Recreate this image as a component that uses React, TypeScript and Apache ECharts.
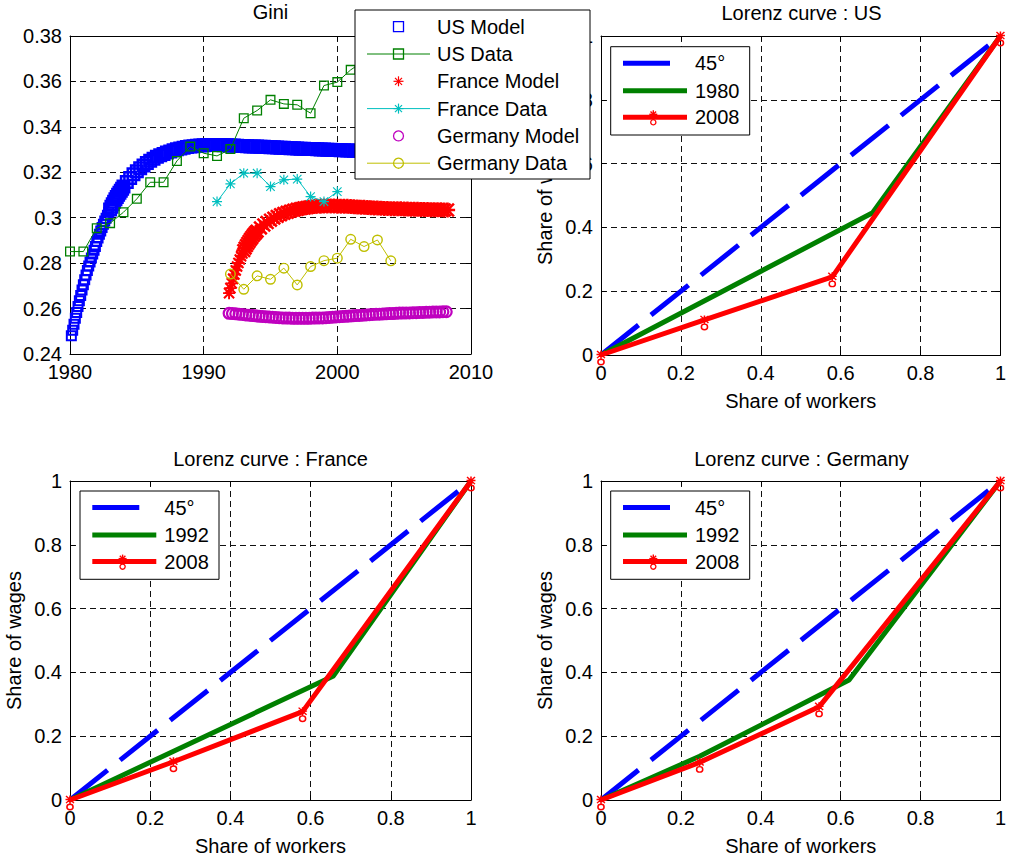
import React, { useEffect, useRef } from "react";
import * as echarts from "echarts";

const FONT = "'Liberation Sans', Arial, sans-serif";

// ---------- Gini panel data ----------
const usModelEarlyStart = 1980.1;
const usModelEarlyStep = 0.1;
const usModelEarly = [
  0.2480, 0.2505, 0.2531, 0.2557, 0.2583, 0.2609, 0.2634, 0.2658, 0.2682,
  0.2705, 0.2727, 0.2748, 0.2768, 0.2787, 0.2805, 0.2823, 0.2840, 0.2857, 0.2873,
  0.2895, 0.2911, 0.2927, 0.2942, 0.2957, 0.2971, 0.2985, 0.2998, 0.3011, 0.3024,
  0.3036, 0.3048, 0.3059, 0.3070, 0.3081, 0.3091, 0.3101, 0.3110, 0.3119, 0.3128,
  0.3137,
];
const usModelLateStart = 1984.25;
const usModelLateStep = 0.25;
const usModelLate = [
  0.3157, 0.3175, 0.3191,
  0.3205, 0.3218, 0.3230, 0.3241,
  0.3251, 0.3260, 0.3268, 0.3275,
  0.3281, 0.3287, 0.3292, 0.3297,
  0.3301, 0.3305, 0.3308, 0.3311,
  0.3313, 0.3315, 0.3317, 0.3318,
  0.3319, 0.3320, 0.3320, 0.3320,
  0.3320, 0.3320, 0.3319, 0.3319,
  0.3318, 0.3318, 0.3317, 0.3316,
  0.3316, 0.3315, 0.3314, 0.3314,
  0.3313, 0.3312, 0.3312, 0.3311,
  0.3310, 0.3310, 0.3309, 0.3308,
  0.3308, 0.3307, 0.3306, 0.3306,
  0.3305, 0.3304, 0.3304, 0.3303,
  0.3302, 0.3302, 0.3301, 0.3300,
  0.3300, 0.3299, 0.3299, 0.3298,
  0.3298, 0.3297, 0.3297, 0.3296,
  0.3296, 0.3295, 0.3295, 0.3294,
  0.3294, 0.3293, 0.3293, 0.3292,
  0.3292, 0.3292, 0.3291, 0.3291,
  0.3290, 0.3290, 0.3290, 0.3289,
  0.3289, 0.3289, 0.3288, 0.3288,
  0.3288, 0.3287, 0.3287, 0.3287,
  0.3286, 0.3286, 0.3286, 0.3285,
  0.3285, 0.3285,
];

const usDataYears = [1980, 1981, 1982, 1983, 1984, 1985, 1986, 1987, 1988, 1989, 1990, 1991, 1992, 1993, 1994, 1995, 1996, 1997, 1998, 1999, 2000, 2001, 2002, 2003, 2004];
const usData = [0.2851, 0.2851, 0.2954, 0.2976, 0.3024, 0.3083, 0.3156, 0.3156, 0.3250, 0.3313, 0.3284, 0.3272, 0.3302, 0.3438, 0.3472, 0.3519, 0.3501, 0.3497, 0.3460, 0.3582, 0.3597, 0.3651, 0.3690, 0.3720, 0.3750];

const frModelEarlyStart = 1991.9;
const frModelEarlyStep = 0.1;
const frModelEarly = [
  0.2668, 0.2690, 0.2711, 0.2731, 0.2750, 0.2768, 0.2785, 0.2801, 0.2816, 0.2830,
  0.2843, 0.2855, 0.2866, 0.2877, 0.2887, 0.2896, 0.2905, 0.2913, 0.2921, 0.2928,
  0.2935, 0.2941,
];
const frModelLateStart = 1994.25;
const frModelLateStep = 0.25;
const frModelLate = [
  0.2955, 0.2968, 0.2979,
  0.2989, 0.2998, 0.3006, 0.3013,
  0.3019, 0.3024, 0.3029, 0.3033,
  0.3037, 0.3040, 0.3043, 0.3045,
  0.3047, 0.3049, 0.3050, 0.3051,
  0.3052, 0.3052, 0.3052, 0.3052,
  0.3051, 0.3051, 0.3050, 0.3050,
  0.3049, 0.3048, 0.3047, 0.3046,
  0.3046, 0.3045, 0.3044, 0.3043,
  0.3043, 0.3042, 0.3041, 0.3041,
  0.3040, 0.3040, 0.3039, 0.3039,
  0.3038, 0.3038, 0.3037, 0.3037,
  0.3037, 0.3036, 0.3036, 0.3036,
  0.3035, 0.3035, 0.3035, 0.3035,
  0.3034, 0.3034,
];

const frDataYears = [1991, 1992, 1993, 1994, 1995, 1996, 1997, 1998, 1999, 2000];
const frData = [0.3071, 0.3149, 0.3196, 0.3196, 0.3137, 0.3167, 0.3170, 0.3093, 0.3071, 0.3115];

const deModelStart = 1991.9;
const deModelStep = 0.25;
const deModel = [
  0.2579, 0.2578, 0.2577, 0.2575, 0.2574, 0.2572, 0.2571, 0.2569, 0.2568, 0.2566,
  0.2565, 0.2564, 0.2563, 0.2562, 0.2561, 0.2560, 0.2559, 0.2558, 0.2558, 0.2557,
  0.2557, 0.2557, 0.2557, 0.2557, 0.2557, 0.2558, 0.2558, 0.2559, 0.2559, 0.2560,
  0.2561, 0.2562, 0.2563, 0.2564, 0.2565, 0.2566, 0.2567, 0.2568, 0.2569, 0.2570,
  0.2571, 0.2572, 0.2573, 0.2574, 0.2575, 0.2575, 0.2576, 0.2577, 0.2578, 0.2578,
  0.2579, 0.2580, 0.2580, 0.2581, 0.2581, 0.2582, 0.2582, 0.2583, 0.2583, 0.2584,
  0.2584, 0.2585, 0.2585, 0.2585, 0.2586, 0.2586,
];

const deDataYears = [1992, 1993, 1994, 1995, 1996, 1997, 1998, 1999, 2000, 2001, 2002, 2003, 2004];
const deData = [0.2752, 0.2685, 0.2744, 0.2729, 0.2778, 0.2704, 0.2785, 0.2811, 0.2822, 0.2905, 0.2873, 0.2902, 0.2810];

const giniLegend = ["US Model", "US Data", "France Model", "France Data", "Germany Model", "Germany Data"];

// ---------- Lorenz panels data ----------
const diagX = [0, 1];
const diagY = [0, 1];

const usWorkers1980 = [0, 0.68, 1];
const usWages1980 = [0, 0.446, 1];
const usWorkers2008 = [0, 0.259, 0.579, 1];
const usWages2008 = [0, 0.110, 0.245, 1];

const frWorkers1992 = [0, 0.657, 1];
const frWages1992 = [0, 0.389, 1];
const frWorkers2008 = [0, 0.258, 0.580, 1];
const frWages2008 = [0, 0.120, 0.277, 1];

const deWorkers1992 = [0, 0.247, 0.621, 1];
const deWages1992 = [0, 0.137, 0.376, 1];
const deWorkers2008 = [0, 0.247, 0.546, 1];
const deWages2008 = [0, 0.118, 0.292, 1];

const titles = ["Gini", "Lorenz curve : US", "Lorenz curve : France", "Lorenz curve : Germany"];
const usLegend = ["45\u00b0", "1980", "2008"];
const euLegend = ["45\u00b0", "1992", "2008"];

// ---------- helpers ----------
const pairs = (xs: number[], ys: number[]) => xs.map((x, i) => [x, ys[i]]);
const timed = (start: number, step: number, vals: number[]) =>
  vals.map((v, i) => [+(start + i * step).toFixed(3), v]);

const SQUARE = "path://M0,0H10V10H0Z M1.3,1.3V8.7H8.7V1.3Z";
const SQUARE_BOLD = "path://M0,0H10V10H0Z M1.8,1.8V8.2H8.2V1.8Z";
const CIRCLE = "path://M5,0A5,5 0 1 1 5,10A5,5 0 1 1 5,0Z M5,1.3A3.7,3.7 0 1 0 5,8.7A3.7,3.7 0 1 0 5,1.3Z";
const CIRCLE_BOLD = "path://M5,0A5,5 0 1 1 5,10A5,5 0 1 1 5,0Z M5,1.7A3.3,3.3 0 1 0 5,8.3A3.3,3.3 0 1 0 5,1.7Z";
const STAR =
  "path://M0,4.4H10V5.6H0Z M4.4,0H5.6V10H4.4Z M1.2,0.4L9.6,8.8L8.8,9.6L0.4,1.2Z M8.8,0.4L9.6,1.2L1.2,9.6L0.4,8.8Z";
const STAR_BOLD =
  "path://M0,4.2H10V5.8H0Z M4.2,0H5.8V10H4.2Z M1.4,0.2L9.8,8.6L8.6,9.8L0.2,1.4Z M8.6,0.2L9.8,1.4L1.4,9.8L0.2,8.6Z";
const REDMARK =
  "path://M0.5,3.4H7.5V4.6H0.5Z M3.4,0.5H4.6V7.5H3.4Z M1.3,0.5L7.5,6.7L6.7,7.5L0.5,1.3Z M6.7,0.5L7.5,1.3L1.3,7.5L0.5,6.7Z M4,7.5A3,3 0 1 1 4,13.5A3,3 0 1 1 4,7.5Z M4,8.7A1.8,1.8 0 1 0 4,12.3A1.8,1.8 0 1 0 4,8.7Z";

const BLUE = "#0000ff";
const GREEN = "#008000";
const RED = "#ff0000";
const CYAN = "#00bfbf";
const MAGENTA = "#bf00bf";
const OLIVE = "#bfbf00";

const L = (x1: number, y1: number, x2: number, y2: number, stroke: string, lw = 1.3) => ({
  type: "line",
  z: 100,
  shape: { x1, y1, x2, y2 },
  style: { stroke, lineWidth: lw },
});
const T = (x: number, y: number, text: string, size: number, align = "left") => ({
  type: "text",
  z: 101,
  x,
  y,
  style: { text, fontSize: size, fontFamily: FONT, fill: "#000", align, verticalAlign: "middle", textAlign: align, textVerticalAlign: "middle" },
});
const asterisk = (cx: number, cy: number, r: number, color: string, lw = 1.2) => {
  const d = r * 0.7;
  return [
    L(cx - r, cy, cx + r, cy, color, lw),
    L(cx, cy - r, cx, cy + r, color, lw),
    L(cx - d, cy - d, cx + d, cy + d, color, lw),
    L(cx - d, cy + d, cx + d, cy - d, color, lw),
  ];
};

function giniLegendElements() {
  const els: any[] = [];
  els.push({ type: "rect", z: 99, shape: { x: 355, y: 10, width: 235, height: 169 }, style: { fill: "#fff", stroke: "#000", lineWidth: 1 } });
  const rows = [26.7, 54, 81.3, 108.6, 135.9, 163.2];
  const mx = 398.5;
  const colors = [BLUE, GREEN, RED, CYAN, MAGENTA, OLIVE];
  rows.forEach((y, i) => {
    const c = colors[i];
    if (i % 2 === 1) els.push(L(367, y, 430, y, c, 1));
    const kind = Math.floor(i / 2);
    if (kind === 0) {
      els.push({ type: "rect", z: 101, shape: { x: mx - 5, y: y - 5, width: 10, height: 10 }, style: { fill: "none", stroke: c, lineWidth: 1.3 } });
    } else if (kind === 1) {
      els.push(...asterisk(mx, y, 5, c));
    } else {
      els.push({ type: "circle", z: 101, shape: { cx: mx, cy: y, r: 5 }, style: { fill: "none", stroke: c, lineWidth: 1.3 } });
    }
    els.push(T(437, y, giniLegend[i], 20));
  });
  return els;
}

function lorenzLegendElements(bx: number, by: number, labels: string[]) {
  const els: any[] = [];
  els.push({ type: "rect", z: 99, shape: { x: bx, y: by, width: 139, height: 88.3 }, style: { fill: "#fff", stroke: "#000", lineWidth: 1 } });
  const y1 = by + 16.6, y2 = by + 44, y3 = by + 70.6;
  els.push(L(bx + 12.3, y1, bx + 59.3, y1, BLUE, 5));
  els.push(L(bx + 12.3, y2, bx + 76.3, y2, GREEN, 5));
  els.push(L(bx + 12.3, y3, bx + 76.3, y3, RED, 5));
  const mx = bx + 42.6;
  els.push(...asterisk(mx, y3 - 3, 4, RED, 1.4));
  els.push({ type: "circle", z: 101, shape: { cx: mx, cy: y3 + 5, r: 2.6 }, style: { fill: "none", stroke: RED, lineWidth: 1.3 } });
  els.push(T(bx + 84.3, y1, labels[0], 20));
  els.push(T(bx + 84.3, y2, labels[1], 20));
  els.push(T(bx + 84.3, y3, labels[2], 20));
  return els;
}

const grids = [
  { left: 70, top: 36, width: 401, height: 318 },
  { left: 601, top: 36, width: 401, height: 319 },
  { left: 70, top: 481, width: 401, height: 319 },
  { left: 601, top: 481, width: 401, height: 319 },
];

const axisLine = { show: true, onZero: false, lineStyle: { color: "#000", width: 1 } };
const axisTick = { show: true, inside: true, length: 5, lineStyle: { color: "#000", width: 1 } };
const splitLine = { show: true, lineStyle: { color: "#111", width: 1, type: [6, 4] } };
const labelStyle = { color: "#000", fontSize: 20, fontFamily: FONT, margin: 8 };
const nameStyle = { color: "#000", fontSize: 20, fontFamily: FONT };

const fmtNum = (v: number) => String(Math.round(v * 1000) / 1000);

function xAxes() {
  const list: any[] = [];
  for (let g = 0; g < 4; g++) {
    const isGini = g === 0;
    list.push({
      type: "value",
      gridIndex: g,
      position: "bottom",
      min: isGini ? 1980 : 0,
      max: isGini ? 2010 : 1,
      interval: isGini ? 10 : 0.2,
      axisLine,
      axisTick,
      splitLine,
      axisLabel: { ...labelStyle, formatter: (v: number) => fmtNum(v) },
      name: isGini ? "" : "Share of workers",
      nameLocation: "middle",
      nameGap: 36,
      nameTextStyle: nameStyle,
    });
  }
  for (let g = 0; g < 4; g++) {
    const isGini = g === 0;
    list.push({
      type: "value",
      gridIndex: g,
      position: "top",
      min: isGini ? 1980 : 0,
      max: isGini ? 2010 : 1,
      interval: isGini ? 10 : 0.2,
      axisLine,
      axisTick,
      axisLabel: { show: false },
      splitLine: { show: false },
    });
  }
  return list;
}

function yAxes() {
  const list: any[] = [];
  for (let g = 0; g < 4; g++) {
    const isGini = g === 0;
    list.push({
      type: "value",
      gridIndex: g,
      position: "left",
      min: isGini ? 0.24 : 0,
      max: isGini ? 0.38 : 1,
      interval: isGini ? 0.02 : 0.2,
      axisLine,
      axisTick,
      splitLine,
      axisLabel: { ...labelStyle, formatter: (v: number) => fmtNum(v) },
      name: isGini ? "" : "Share of wages",
      nameLocation: "middle",
      nameGap: 46,
      nameTextStyle: nameStyle,
    });
  }
  for (let g = 0; g < 4; g++) {
    const isGini = g === 0;
    list.push({
      type: "value",
      gridIndex: g,
      position: "right",
      min: isGini ? 0.24 : 0,
      max: isGini ? 0.38 : 1,
      interval: isGini ? 0.02 : 0.2,
      axisLine,
      axisTick,
      axisLabel: { show: false },
      splitLine: { show: false },
    });
  }
  return list;
}

function scatterSeries(name: string, data: number[][], symbol: string, size: any, color: string) {
  return {
    type: "scatter",
    name,
    xAxisIndex: 0,
    yAxisIndex: 0,
    data,
    symbol,
    symbolSize: size,
    clip: false,
    itemStyle: { color, opacity: 1 },
    silent: true,
  };
}
function dataLineSeries(name: string, data: number[][], symbol: string, size: number, color: string) {
  return {
    type: "line",
    name,
    xAxisIndex: 0,
    yAxisIndex: 0,
    data,
    symbol,
    symbolSize: size,
    showSymbol: true,
    clip: false,
    lineStyle: { color, width: 1 },
    itemStyle: { color, opacity: 1 },
    silent: true,
  };
}
function lorenzSeries(g: number, wx: number[], wy: number[], yx: number[], yy: number[], zx: number[], zy: number[]) {
  return [
    {
      type: "line", xAxisIndex: g, yAxisIndex: g, data: pairs(wx, wy), symbol: "none", clip: false, silent: true,
      lineStyle: { color: BLUE, width: 5, type: [48, 16], cap: "butt" },
    },
    {
      type: "line", xAxisIndex: g, yAxisIndex: g, data: pairs(yx, yy), symbol: "none", clip: false, silent: true,
      lineStyle: { color: GREEN, width: 5 },
    },
    {
      type: "line", xAxisIndex: g, yAxisIndex: g, data: pairs(zx, zy), symbol: REDMARK, symbolSize: [9, 15], symbolOffset: [0, 3],
      showSymbol: true, clip: false, silent: true,
      lineStyle: { color: RED, width: 5 },
      itemStyle: { color: RED, opacity: 1 },
    },
  ];
}

const titleEls = [
  T(270.5, 12, titles[0], 20, "center"),
  T(801.5, 13, titles[1], 20, "center"),
  T(270.5, 459, titles[2], 20, "center"),
  T(801.5, 459, titles[3], 20, "center"),
];

const usModelSize = (v: number[]) => (v[0] < 1983 ? 11 : 14);
const frModelSize = (v: number[]) => (v[0] < 1993 ? 12 : 15);

const option: any = {
  animation: false,
  backgroundColor: "#fff",
  grid: grids,
  xAxis: xAxes(),
  yAxis: yAxes(),
  series: [
    scatterSeries(giniLegend[0], [...timed(usModelEarlyStart, usModelEarlyStep, usModelEarly), ...timed(usModelLateStart, usModelLateStep, usModelLate)], SQUARE_BOLD, usModelSize, BLUE),
    dataLineSeries(giniLegend[1], pairs(usDataYears, usData), SQUARE, 10, GREEN),
    scatterSeries(giniLegend[2], [...timed(frModelEarlyStart, frModelEarlyStep, frModelEarly), ...timed(frModelLateStart, frModelLateStep, frModelLate)], STAR_BOLD, frModelSize, RED),
    dataLineSeries(giniLegend[3], pairs(frDataYears, frData), STAR, 10, CYAN),
    scatterSeries(giniLegend[4], timed(deModelStart, deModelStep, deModel), CIRCLE_BOLD, 13, MAGENTA),
    dataLineSeries(giniLegend[5], pairs(deDataYears, deData), CIRCLE, 11, OLIVE),
    ...lorenzSeries(1, diagX, diagY, usWorkers1980, usWages1980, usWorkers2008, usWages2008),
    ...lorenzSeries(2, diagX, diagY, frWorkers1992, frWages1992, frWorkers2008, frWages2008),
    ...lorenzSeries(3, diagX, diagY, deWorkers1992, deWages1992, deWorkers2008, deWages2008),
  ],
  graphic: [
    ...titleEls,
    ...giniLegendElements(),
    ...lorenzLegendElements(610.7, 46.7, usLegend),
    ...lorenzLegendElements(80, 491, euLegend),
    ...lorenzLegendElements(610.7, 491, euLegend),
  ],
};

export default function App() {
  const ref = useRef<HTMLDivElement>(null);
  useEffect(() => {
    if (!ref.current) return;
    const chart = echarts.init(ref.current, null, { renderer: "svg" });
    chart.setOption(option);
    return () => chart.dispose();
  }, []);
  return (
    <div
      ref={ref}
      style={{ position: "fixed", left: 0, top: 0, width: 1009, height: 859, background: "#fff" }}
    />
  );
}
